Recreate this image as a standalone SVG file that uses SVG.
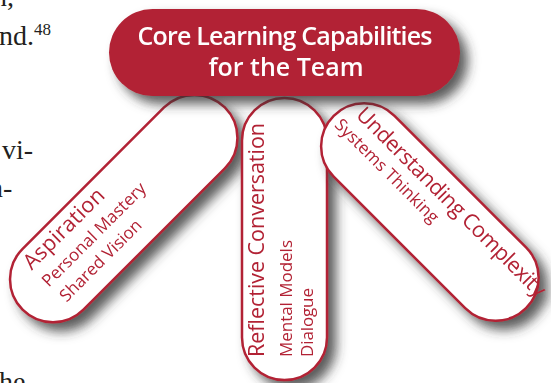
<svg xmlns="http://www.w3.org/2000/svg" width="551" height="383" viewBox="0 0 551 383">
<defs>
<filter id="sh" filterUnits="userSpaceOnUse" x="-60" y="-60" width="700" height="520">
<feGaussianBlur in="SourceAlpha" stdDeviation="6"/>
<feOffset dx="8" dy="8" result="b"/>
<feFlood flood-color="#333333" flood-opacity="0.8"/>
<feComposite in2="b" operator="in"/>
<feMerge><feMergeNode/><feMergeNode in="SourceGraphic"/></feMerge>
</filter>
</defs>
<style>
.page{font-family:"Liberation Serif",serif;font-size:28px;fill:#231f20}
.pill{fill:#fff;stroke:#b22234;stroke-width:2.5}
.t1{font-family:"Open Sans",sans-serif;font-size:21.5px;fill:#b22234}
.t2{font-family:"Open Sans",sans-serif;font-size:17px;fill:#b22234}
.head{font-family:"Open Sans",sans-serif;font-weight:600;font-size:25px;fill:#fff;text-anchor:middle}
</style>
<g id="page-text">
<text class="page" x="-7" y="6">n,</text>
<text class="page" x="-1" y="45">nd.<tspan font-size="17" dy="-10">48</tspan></text>
<text class="page" x="2" y="159">vi-</text>
<text class="page" x="-11" y="197">n-</text>
<text class="page" x="-1" y="391">he</text>
</g>
<g id="aspiration" filter="url(#sh)">
<g transform="translate(-7.8,279.3) rotate(-45)">
<rect class="pill" x="0" y="0" width="286" height="86" rx="43"/>
<text class="t1" x="34" y="22" textLength="105">Aspiration</text>
<text class="t2" x="34" y="46" textLength="139">Personal Mastery</text>
<text class="t2" x="36" y="69" textLength="108">Shared Vision</text>
</g>
</g>
<g id="reflective-conversation" filter="url(#sh)">
<g transform="translate(242,380) rotate(-90)">
<rect class="pill" x="0" y="0" width="282" height="85" rx="42.5"/>
<text class="t1" x="23" y="22" textLength="234">Reflective Conversation</text>
<text class="t2" x="23" y="50" textLength="117">Mental Models</text>
<text class="t2" x="23" y="71" textLength="69">Dialogue</text>
</g>
</g>
<g id="understanding-complexity" filter="url(#sh)">
<g transform="translate(364.1,85.5) rotate(45)">
<rect class="pill" x="0" y="0" width="272" height="86" rx="43"/>
<text class="t1" x="15" y="28" textLength="258">Understanding Complexity</text>
<text class="t2" x="7" y="50" textLength="139">Systems Thinking</text>
</g>
</g>
<g id="core" filter="url(#sh)">
<rect x="109" y="9" width="351" height="87" rx="43.5" fill="#b22234"/>
<text class="head" x="285" y="45" textLength="295">Core Learning Capabilities</text>
<text class="head" x="286" y="76">for the Team</text>
</g>
</svg>
